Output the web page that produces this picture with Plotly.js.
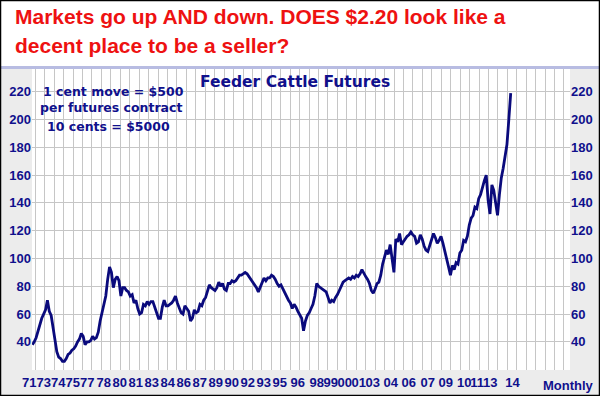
<!DOCTYPE html>
<html><head><meta charset="utf-8">
<script src="https://cdn.plot.ly/plotly-3.0.1.min.js"></script>
<style>html,body{margin:0;padding:0;background:#fff}#chart{width:600px;height:396px}</style>
</head><body><div id="chart"></div>
<script>
// Feeder cattle futures, bi-monthly readings (cents/lb), starting March 1972
const startYear = 1972.2;
const stepYears = 1 / 6;
const price = [
  38, 40, 43, 48, 52, 57,      // 1972
  60, 63, 70, 62, 59, 50,      // 1973
  41, 33, 29, 28, 26, 26,      // 1974
  28, 31, 32, 34, 35, 37,      // 1975
  40, 42, 46, 44, 38, 40,      // 1976
  40, 41, 44, 42, 43, 47,      // 1977
  55, 61, 65, 73, 85, 94,      // 1978
  90, 79, 85, 87, 84, 73,      // 1979
  79, 79, 77, 76, 73, 74,      // 1980
  68, 70, 64, 60, 61, 67,      // 1981
  66, 69, 67, 69, 69, 64,      // 1982
  61, 57, 57, 65, 70, 66,      // 1983
  66, 67, 68, 70, 73, 68,      // 1984
  64, 61, 60, 66, 64, 62,      // 1985
  55, 57, 63, 61, 62, 67,      // 1986
  66, 70, 72, 76, 81, 79,      // 1987
  78, 77, 79, 83, 80, 82,      // 1988
  78, 77, 82, 82, 84, 83,      // 1989
  84, 86, 88, 88, 89, 90,      // 1990
  89, 87, 85, 83, 81, 79,      // 1991
  76, 79, 83, 86, 84, 86,      // 1992
  86, 88, 87, 85, 82, 80,      // 1993
  81, 78, 75, 73, 70, 68,      // 1994
  64, 67, 65, 62, 59, 57,      // 1995
  48, 55, 59, 61, 64, 67,      // 1996
  73, 82, 80, 79, 78, 77,      // 1997
  76, 72, 68, 70, 69, 72,      // 1998
  74, 77, 80, 83, 84, 85,      // 1999
  86, 85, 87, 86, 88, 87,      // 2000
  89, 92, 89, 87, 85, 82,      // 2001
  77, 75, 78, 82, 83, 88,      // 2002
  96, 102, 106, 103, 110, 100, // 2003
  90, 114, 112, 118, 110, 112, // 2004
  114, 116, 117, 119, 117, 116,// 2005
  111, 112, 117, 114, 109, 106,// 2006
  105, 110, 114, 118, 115, 111,// 2007
  113, 116, 111, 106, 101, 94, // 2008
  88, 95, 92, 97, 96, 104,     // 2009
  106, 113, 112, 116, 124, 129,// 2010
  131, 137, 136, 143, 146, 152,// 2011
  156, 160, 142, 132, 153, 149,// 2012
  140, 131, 146, 158, 165, 175,// 2013
  182, 200, 219                // 2014
];

const tickLabels = ['71','73','74','75','77','78','80','81','83','84','86','87','89','90','92','93','95',
  '96','98','99','00','01','03','04','06','07','09','10','11','13','14'];
const tickYears = [1972.271, 1973.554, 1974.837, 1976.120, 1977.404, 1978.864, 1980.280, 1981.696,
  1983.112, 1984.527, 1985.943, 1987.359, 1988.775, 1990.191, 1991.607, 1993.023, 1994.439,
  1996.032, 1997.713, 1998.952, 2000.191, 2001.430, 2002.669, 2004.262, 2005.855, 2007.536,
  2009.129, 2010.766, 2011.917, 2013.067, 2015.041];
const yTicks = [40, 60, 80, 100, 120, 140, 160, 180, 200, 220];

const titleLines = ['Markets go up AND down. DOES $2.20 look like a', 'decent place to be a seller?'];
const noteLines = ['1 cent move = $500', 'per futures contract', '10 cents = $5000'];
const chartName = 'Feeder Cattle Futures';
const periodLabel = 'Monthly';

const xs = price.map((_, i) => startYear + i * stepYears);

const navy = '#10108c';
const lineNavy = '#0a0a7c';
const gridC = '#c6c6c6';
const bodyFont = 'Liberation Sans, Arial, sans-serif';
const wideFont = 'DejaVu Sans, Verdana, sans-serif';

const W = 600, H = 396, L = 32, R = 30, T = 69, B = 26;
const pw = W - L - R, ph = H - T - B;
const px = v => (v - L) / pw;
const py = v => (H - B - v) / ph;

const yRange = [19.78, 236.33];
const xRange = [1972.17, 2019.78];

const traces = [
  {x: xs, y: price, type: 'scatter', mode: 'lines',
   line: {color: lineNavy, width: 2.8}, hoverinfo: 'skip', showlegend: false},
  // anchors the right-hand price axis
  {x: [xs[0]], y: [price[0]], yaxis: 'y2', type: 'scatter', mode: 'markers',
   marker: {opacity: 0}, hoverinfo: 'skip', showlegend: false}
];

const tickFont = {family: bodyFont, size: 13, color: navy, weight: 700};

const annotations = [
  {text: titleLines[0], x: px(13), y: py(16.4), xanchor: 'left', yanchor: 'middle'},
  {text: titleLines[1], x: px(13), y: py(45.4), xanchor: 'left', yanchor: 'middle'}
].map(a => Object.assign(a, {xref: 'paper', yref: 'paper', showarrow: false,
  font: {family: bodyFont, size: 21, color: '#ee1111', weight: 700}}));

[[113, 91], [111, 108], [108.5, 126]].forEach((p, i) => annotations.push({
  text: noteLines[i], x: px(p[0]), y: py(p[1]), xref: 'paper', yref: 'paper',
  xanchor: 'center', yanchor: 'middle', showarrow: false,
  font: {family: wideFont, size: 12.5, color: navy, weight: 700}
}));
annotations.push({text: chartName, x: px(295), y: py(81.5), xref: 'paper', yref: 'paper',
  xanchor: 'center', yanchor: 'middle', showarrow: false,
  font: {family: wideFont, size: 15.5, color: navy, weight: 700}});
annotations.push({text: periodLabel, x: px(596), y: py(386), xref: 'paper', yref: 'paper',
  xanchor: 'right', yanchor: 'middle', showarrow: false,
  font: {family: bodyFont, size: 13, color: navy, weight: 700}});

const shapes = [
  {type: 'rect', xref: 'paper', yref: 'paper', x0: px(0), x1: px(600), y0: py(66), y1: py(0),
   fillcolor: '#ffffff', line: {width: 0}, layer: 'below'},
  {type: 'rect', xref: 'paper', yref: 'paper', x0: px(0), x1: px(600), y0: py(69), y1: py(66),
   fillcolor: '#b8bce2', line: {width: 0}, layer: 'below'},
  {type: 'rect', xref: 'paper', yref: 'paper', x0: px(0.5), x1: px(599.5), y0: py(395.5), y1: py(0.5),
   fillcolor: 'rgba(0,0,0,0)', line: {width: 1.5, color: '#000000'}}
];

const layout = {
  width: W, height: H,
  margin: {l: L, r: R, t: T, b: B, pad: 0},
  paper_bgcolor: '#ececec', plot_bgcolor: '#ffffff',
  showlegend: false,
  xaxis: {
    range: xRange, tickmode: 'array', tickvals: tickYears, ticktext: tickLabels,
    tickangle: 0, ticklabelshift: -4, ticklabelstandoff: 3, showgrid: false, zeroline: false,
    showline: false, ticks: '', tickfont: tickFont,
    minor: {tickmode: 'linear', tick0: 1972.465, dtick: 0.8354, showgrid: true,
            gridcolor: gridC, gridwidth: 1, ticks: ''}
  },
  yaxis: {
    range: yRange, tickmode: 'array', tickvals: yTicks, showgrid: true, gridcolor: gridC,
    zeroline: false, showline: false, ticks: '', tickfont: tickFont
  },
  yaxis2: {
    range: yRange, tickmode: 'array', tickvals: yTicks, overlaying: 'y', side: 'right',
    showgrid: false, zeroline: false, showline: false, ticks: '', tickfont: tickFont
  },
  annotations: annotations,
  shapes: shapes
};

Plotly.newPlot('chart', traces, layout, {displayModeBar: false, staticPlot: true});
</script>
</body></html>
